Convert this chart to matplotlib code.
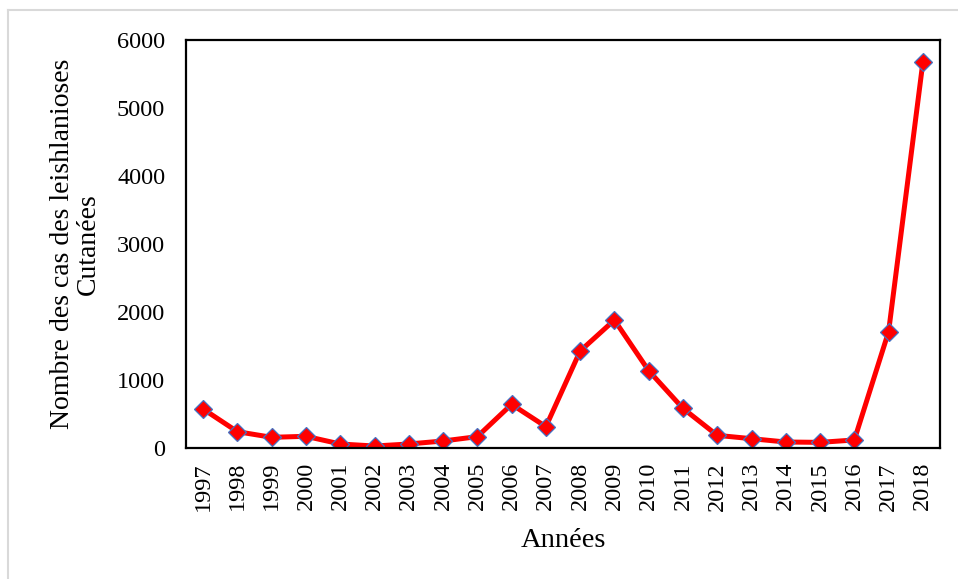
import matplotlib
matplotlib.use("Agg")
from matplotlib import pyplot as plt
from matplotlib.lines import Line2D

# données
annees = ['1997', '1998', '1999', '2000', '2001', '2002', '2003', '2004', '2005', '2006', '2007',
          '2008', '2009', '2010', '2011', '2012', '2013', '2014', '2015', '2016', '2017', '2018']
cas = [573, 240, 157, 172, 59, 29, 59, 103, 167, 642, 314,
       1426, 1882, 1137, 583, 186, 137, 88, 83, 118, 1711, 5672]

plt.rcParams['font.family'] = ['Liberation Serif', 'DejaVu Serif']

fig = plt.figure(figsize=(9.58, 5.79), dpi=100)
ax = fig.add_axes([186 / 958, 1 - 448 / 579, (940 - 186) / 958, (448 - 40) / 579])

x = list(range(len(annees)))
ax.plot(x, cas, color='#ff0000', linewidth=3.6, marker='D', markersize=9.5,
        markerfacecolor='#ff0000', markeredgecolor='#4472c4', markeredgewidth=0.9)

ax.set_xlim(-0.5, len(annees) - 0.5)
ax.set_ylim(0, 6000)
ax.set_yticks(range(0, 6001, 1000))
ax.set_xticks(x)
ax.set_xticklabels(annees, rotation=90)
ax.tick_params(axis='both', length=0, labelsize=17.5)
ax.tick_params(axis='y', pad=15)
ax.tick_params(axis='x', pad=10)
for s in ax.spines.values():
    s.set_linewidth(1.6)
    s.set_color('black')

ax.set_xlabel('Années', fontsize=20.5)
ax.set_ylabel('Nombre des cas des leishlanioses\nCutanées', fontsize=20, linespacing=1.05)
ax.yaxis.set_label_coords(-0.113, 0.5)
ax.xaxis.set_label_coords(0.5, -0.195)

# cadre gris extérieur
fig.add_artist(Line2D([8 / 958, 8 / 958], [0, 1 - 10 / 579], transform=fig.transFigure,
                      color='#d9d9d9', linewidth=1.5))
fig.add_artist(Line2D([8 / 958, 1], [1 - 10 / 579, 1 - 10 / 579], transform=fig.transFigure,
                      color='#d9d9d9', linewidth=1.5))

fig.savefig('out.png', dpi=100)
